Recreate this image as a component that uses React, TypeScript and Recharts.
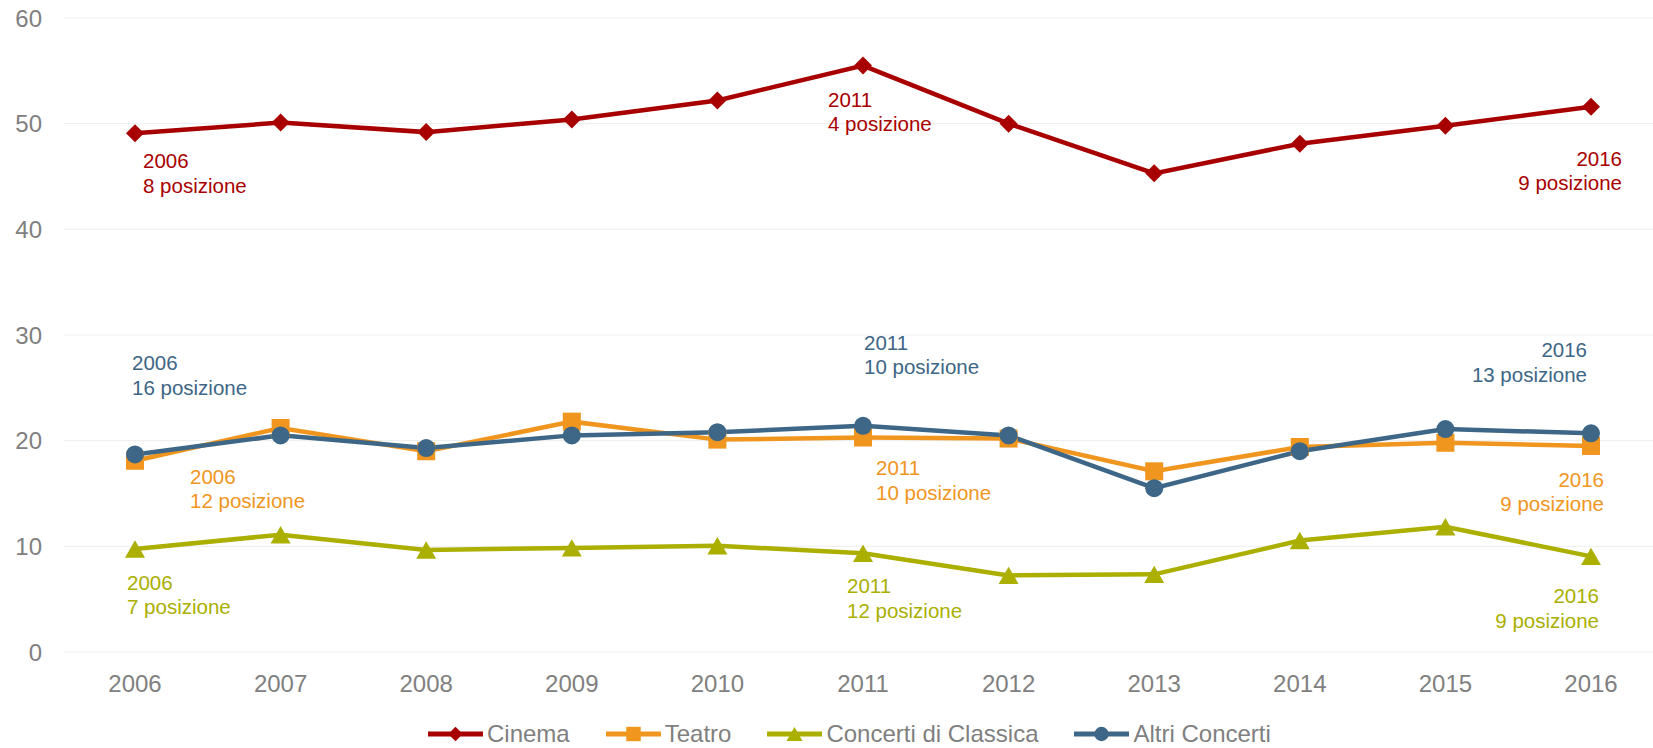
import React from 'react';
import { LineChart, Line, XAxis, YAxis, CartesianGrid } from 'recharts';

const years = ['2006', '2007', '2008', '2009', '2010', '2011', '2012', '2013', '2014', '2015', '2016'];
const cinema = [49.1, 50.1, 49.2, 50.4, 52.2, 55.5, 50.0, 45.3, 48.1, 49.8, 51.6];
const teatro = [18.1, 21.2, 19.0, 21.8, 20.1, 20.3, 20.2, 17.1, 19.4, 19.8, 19.5];
const classica = [9.75, 11.1, 9.65, 9.85, 10.05, 9.35, 7.25, 7.35, 10.55, 11.85, 9.05];
const altri = [18.7, 20.5, 19.3, 20.5, 20.8, 21.4, 20.5, 15.5, 19.0, 21.1, 20.7];
const yTicks = [0, 10, 20, 30, 40, 50, 60];

const annotatedYears = ['2006', '2011', '2016'];
const cinemaRank = [8, 4, 9];
const teatroRank = [12, 10, 9];
const classicaRank = [7, 12, 9];
const altriRank = [16, 10, 13];

const FONT = '"Liberation Sans", Arial, Helvetica, sans-serif';
const AXIS_COLOR = '#808080';

const data = years.map((y, i) => ({
  year: y,
  cinema: cinema[i],
  teatro: teatro[i],
  classica: classica[i],
  altri: altri[i],
}));

type Shape = 'diamond' | 'square' | 'triangle' | 'circle';

type Offset = { dx: number; dy: number; anchor: 'start' | 'end' };

const series: {
  key: string;
  name: string;
  color: string;
  shape: Shape;
  ranks: number[];
  offsets: Offset[];
}[] = [
  {
    key: 'cinema',
    name: 'Cinema',
    color: '#A80000',
    shape: 'diamond',
    ranks: cinemaRank,
    offsets: [
      { dx: 8, dy: 35, anchor: 'start' },
      { dx: -35, dy: 41, anchor: 'start' },
      { dx: 31, dy: 59, anchor: 'end' },
    ],
  },
  {
    key: 'teatro',
    name: 'Teatro',
    color: '#F0961E',
    shape: 'square',
    ranks: teatroRank,
    offsets: [
      { dx: 55, dy: 23, anchor: 'start' },
      { dx: 13, dy: 38, anchor: 'start' },
      { dx: 13, dy: 41, anchor: 'end' },
    ],
  },
  {
    key: 'classica',
    name: 'Concerti di Classica',
    color: '#AAAF00',
    shape: 'triangle',
    ranks: classicaRank,
    offsets: [
      { dx: -8, dy: 41, anchor: 'start' },
      { dx: -16, dy: 40, anchor: 'start' },
      { dx: 8, dy: 47, anchor: 'end' },
    ],
  },
  {
    key: 'altri',
    name: 'Altri Concerti',
    color: '#3E6686',
    shape: 'circle',
    ranks: altriRank,
    offsets: [
      { dx: -3, dy: -84, anchor: 'start' },
      { dx: 1, dy: -76, anchor: 'start' },
      { dx: -4, dy: -76, anchor: 'end' },
    ],
  },
];

function Marker({ shape, cx, cy, color, s }: { shape: Shape; cx: number; cy: number; color: string; s: number }) {
  if (shape === 'diamond') {
    const h = 9 * s;
    return <polygon points={`${cx},${cy - h} ${cx + h},${cy} ${cx},${cy + h} ${cx - h},${cy}`} fill={color} />;
  }
  if (shape === 'square') {
    const h = 9 * s;
    return <rect x={cx - h} y={cy - h} width={2 * h} height={2 * h} fill={color} />;
  }
  if (shape === 'triangle') {
    const w = 10 * s;
    const h = 8.7 * s;
    return <polygon points={`${cx},${cy - h} ${cx + w},${cy + h} ${cx - w},${cy + h}`} fill={color} />;
  }
  return <circle cx={cx} cy={cy} r={9 * s} fill={color} />;
}

const makeDot = (cfg: (typeof series)[number]) => (props: any) => {
  const { cx, cy, index } = props;
  const year = years[index];
  const ai = annotatedYears.indexOf(year);
  const off = ai >= 0 ? cfg.offsets[ai] : null;
  return (
    <g key={`${cfg.key}-dot-${index}`}>
      <Marker shape={cfg.shape} cx={cx} cy={cy} color={cfg.color} s={1} />
      {off && (
        <text
          fill={cfg.color}
          fontSize={20.5}
          fontFamily={FONT}
          textAnchor={off.anchor}
        >
          <tspan x={cx + off.dx} y={cy + off.dy}>{year}</tspan>
          <tspan x={cx + off.dx} y={cy + off.dy + 24.5}>{`${cfg.ranks[ai]} posizione`}</tspan>
        </text>
      )}
    </g>
  );
};

function LegendBox() {
  return (
    <div
      style={{
        position: 'absolute',
        left: 428,
        top: 722,
        height: 24,
        display: 'flex',
        alignItems: 'flex-start',
        whiteSpace: 'nowrap',
        fontFamily: FONT,
        fontSize: 24,
        lineHeight: '24px',
        color: '#7F7F7F',
      }}
    >
      {series.map((s) => (
        <div key={s.key} style={{ display: 'flex', alignItems: 'flex-start', marginRight: 36 }}>
          <svg width={55} height={24} style={{ display: 'block' }}>
            <line x1={0} y1={12} x2={55} y2={12} stroke={s.color} strokeWidth={5} />
            <Marker shape={s.shape} cx={27.5} cy={12} color={s.color} s={0.8} />
          </svg>
          <span style={{ marginLeft: 4, display: 'block' }}>{s.name}</span>
        </div>
      ))}
    </div>
  );
}

export default function App() {
  return (
    <div style={{ position: 'absolute', left: 0, top: 0, width: 1653, height: 748, background: '#fff' }}>
      <LineChart
        width={1653}
        height={748}
        data={data}
        margin={{ top: 18, right: 0, bottom: 46, left: 0 }}
      >
        <CartesianGrid vertical={false} stroke="#EDEDED" strokeWidth={1} />
        <XAxis
          dataKey="year"
          axisLine={false}
          tickLine={false}
          tickSize={0}
          tickMargin={23}
          height={50}
          padding={{ left: 71, right: 62 }}
          tick={{ fill: AXIS_COLOR, fontSize: 24, fontFamily: FONT }}
          interval={0}
        />
        <YAxis
          domain={[0, 60]}
          ticks={yTicks}
          width={64}
          axisLine={false}
          tickLine={false}
          tickSize={0}
          tickMargin={22}
          tick={{ fill: AXIS_COLOR, fontSize: 24, fontFamily: FONT }}
        />
        {series.map((s) => (
          <Line
            key={s.key}
            type="linear"
            dataKey={s.key}
            name={s.name}
            stroke={s.color}
            strokeWidth={4.5}
            dot={makeDot(s)}
            activeDot={false}
            isAnimationActive={false}
          />
        ))}
      </LineChart>
      <LegendBox />
    </div>
  );
}
